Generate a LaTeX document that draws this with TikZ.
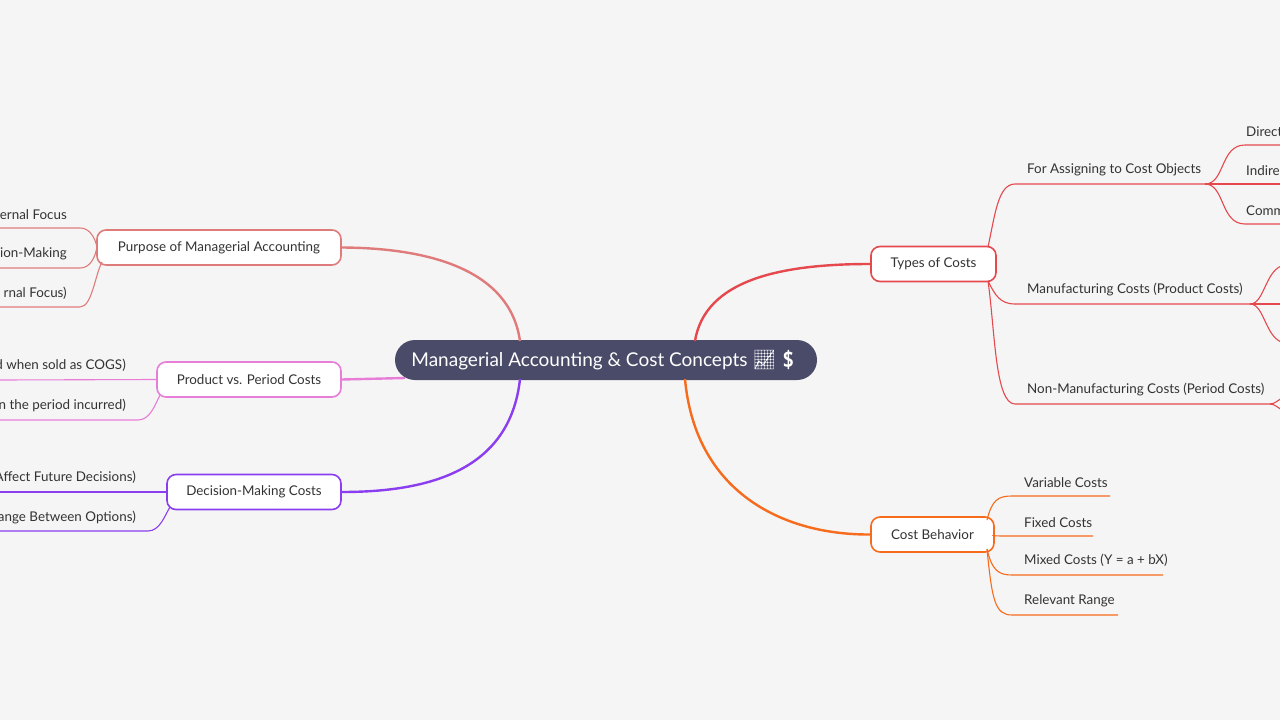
\documentclass[tikz,border=0pt]{standalone}
\usepackage{fontspec}
\setmainfont{Lato}
\newfontfamily\emo{Noto Emoji}
\definecolor{bg}{HTML}{F5F5F5}
\definecolor{cen}{HTML}{4A4B68}
\definecolor{cpur}{HTML}{E07B7B}
\definecolor{cpink}{HTML}{E87DD8}
\definecolor{cviol}{HTML}{8B3DF0}
\definecolor{cred}{HTML}{E5484D}
\definecolor{cora}{HTML}{F76B1C}
\definecolor{txt}{HTML}{333333}
\tikzset{
  box/.style={draw=#1,line width=1.6pt,fill=white,rounded corners=9pt,minimum height=35pt,inner xsep=12pt,font=\fontsize{13.4}{15}\selectfont,text=txt},
  br/.style={draw=#1,line width=2.4pt},
  ln/.style={draw=#1,line width=1.1pt},
  lbl/.style={font=\fontsize{13.4}{15}\selectfont,text=txt,inner sep=0pt},
}
\begin{document}
\begin{tikzpicture}[x=1pt,y=-1pt]
\useasboundingbox (0,0) rectangle (1280,720);
\clip (0,0) rectangle (1280,720);
\fill[bg] (0,0) rectangle (1280,720);
% center
\node[fill=cen,rounded corners=20pt,minimum width=422pt,minimum height=40pt,text=white,font=\fontsize{19}{22}\selectfont] (c) at (606,360) {Managerial Accounting \& Cost Concepts {\emo 📈💲}};
% boxes
\node[box=cpur,minimum width=244pt] (p) at (219,247.5) {Purpose of Managerial Accounting};
\node[box=cpink,minimum width=184pt] (pv) at (249,379.5) {Product vs. Period Costs};
\node[box=cviol,minimum width=174pt] (dm) at (254,492) {Decision-Making Costs};
\node[box=cred,minimum width=125pt] (t) at (933.5,264) {Types of Costs};
\node[box=cora,minimum width=123pt] (cb) at (932.5,534.5) {Cost Behavior};
% main branches
\coordinate (c1) at (520,341); \coordinate (c2) at (520,379); \coordinate (c3) at (405,378);
\coordinate (c4) at (695,341); \coordinate (c5) at (685,379);
\draw[br=cpur] (c1) .. controls (510,270) and (430,248) .. (p.east);
\draw[br=cpink] (c3) -- (pv.east);
\draw[br=cviol] (c2) .. controls (510,470) and (430,492) .. (dm.east);
\draw[br=cred] (c4) .. controls (705,280) and (780,264) .. (t.west);
\draw[br=cora] (c5) .. controls (695,490) and (780,535) .. (cb.west);
% left children
\node[lbl,anchor=south east] (l1) at (67,220) {ernal Focus};
\node[lbl,anchor=south east] (l2) at (67,260) {ion-Making};
\node[lbl,anchor=south east] (l3) at (67,300) {rnal Focus)};
\coordinate (e1) at (0,228); \coordinate (e2) at (0,268); \coordinate (e3) at (0,307);
\coordinate (pw) at (97,247);
\draw[ln=cpur] (e1) -- (80,228) .. controls (90,228) and (95,238) .. (pw);
\draw[ln=cpur] (e2) -- (80,268) .. controls (90,268) and (95,258) .. (pw);
\draw[ln=cpur] (e3) -- (80,307) .. controls (92,307) and (95,275) .. (102,262);
\node[lbl,anchor=south east] (m1) at (126,372) {d when sold as COGS)};
\node[lbl,anchor=south east] (m2) at (126,412) {n the period incurred)};
\coordinate (f1) at (0,380); \coordinate (f2) at (0,420);
\draw[ln=cpink] (f1) -- (pv.west);
\draw[ln=cpink] (f2) -- (138,420) .. controls (150,420) and (155,405) .. (160,395);
\node[lbl,anchor=south east] (n1) at (136,484) {Affect Future Decisions)};
\node[lbl,anchor=south east] (n2) at (136,524) {ange Between Options)};
\coordinate (g1) at (0,492); \coordinate (g2) at (0,531);
\draw[ln=cviol] (g1) -- (dm.west);
\draw[ln=cviol] (g2) -- (148,531) .. controls (160,531) and (165,515) .. (170,507);
% right: types
\coordinate (ta) at (988,247); \coordinate (tb) at (988,281);
\draw[ln=cred] (ta) .. controls (995,215) and (998,184) .. (1015,184) -- (1205,184);
\draw[ln=cred] (tb) .. controls (995,295) and (1000,304) .. (1015,304) -- (1250,304);
\draw[ln=cred] (tb) .. controls (995,330) and (995,404) .. (1015,404) -- (1270,404);
\node[lbl,anchor=south west] (r1) at (1027,176) {For Assigning to Cost Objects};
\node[lbl,anchor=south west] (r2) at (1027,296) {Manufacturing Costs (Product Costs)};
\node[lbl,anchor=south west] (r3) at (1027,396) {Non-Manufacturing Costs (Period Costs)};
\coordinate (s1) at (1205,184);
\draw[ln=cred] (s1) .. controls (1225,184) and (1220,145) .. (1245,145) -- (1280,145);
\draw[ln=cred] (s1) -- (1280,184);
\draw[ln=cred] (s1) .. controls (1225,184) and (1220,224) .. (1245,224) -- (1280,224);
\node[lbl,anchor=south west] (q1) at (1246,137) {Direct};
\node[lbl,anchor=south west] (q2) at (1246,176) {Indire};
\node[lbl,anchor=south west] (q3) at (1246,216) {Comm};
\coordinate (s2) at (1250,304);
\draw[ln=cred] (s2) .. controls (1265,304) and (1265,268) .. (1285,265);
\draw[ln=cred] (s2) -- (1280,304);
\draw[ln=cred] (s2) .. controls (1265,304) and (1265,340) .. (1285,343);
\coordinate (s3) at (1270,404);
\draw[ln=cred] (s3) .. controls (1275,404) and (1278,400) .. (1285,396);
\draw[ln=cred] (s3) .. controls (1275,404) and (1278,408) .. (1285,412);
% right: cost behavior
\coordinate (ua) at (987,520); \coordinate (ub) at (987,549);
\draw[ln=cora] (ua) .. controls (992,500) and (998,496) .. (1012,496) -- (1110,496);
\draw[ln=cora] (cb.east) .. controls (990,536) and (995,536) .. (1012,536) -- (1093,536);
\draw[ln=cora] (ub) .. controls (992,570) and (998,575) .. (1012,575) -- (1163,575);
\draw[ln=cora] (ub) .. controls (992,600) and (995,615) .. (1012,615) -- (1118,615);
\node[lbl,anchor=south west] (v1) at (1024,488) {Variable Costs};
\node[lbl,anchor=south west] (v2) at (1024,528) {Fixed Costs};
\node[lbl,anchor=south west] (v3) at (1024,567) {Mixed Costs (Y = a + bX)};
\node[lbl,anchor=south west] (v4) at (1024,607) {Relevant Range};
\end{tikzpicture}
\end{document}
